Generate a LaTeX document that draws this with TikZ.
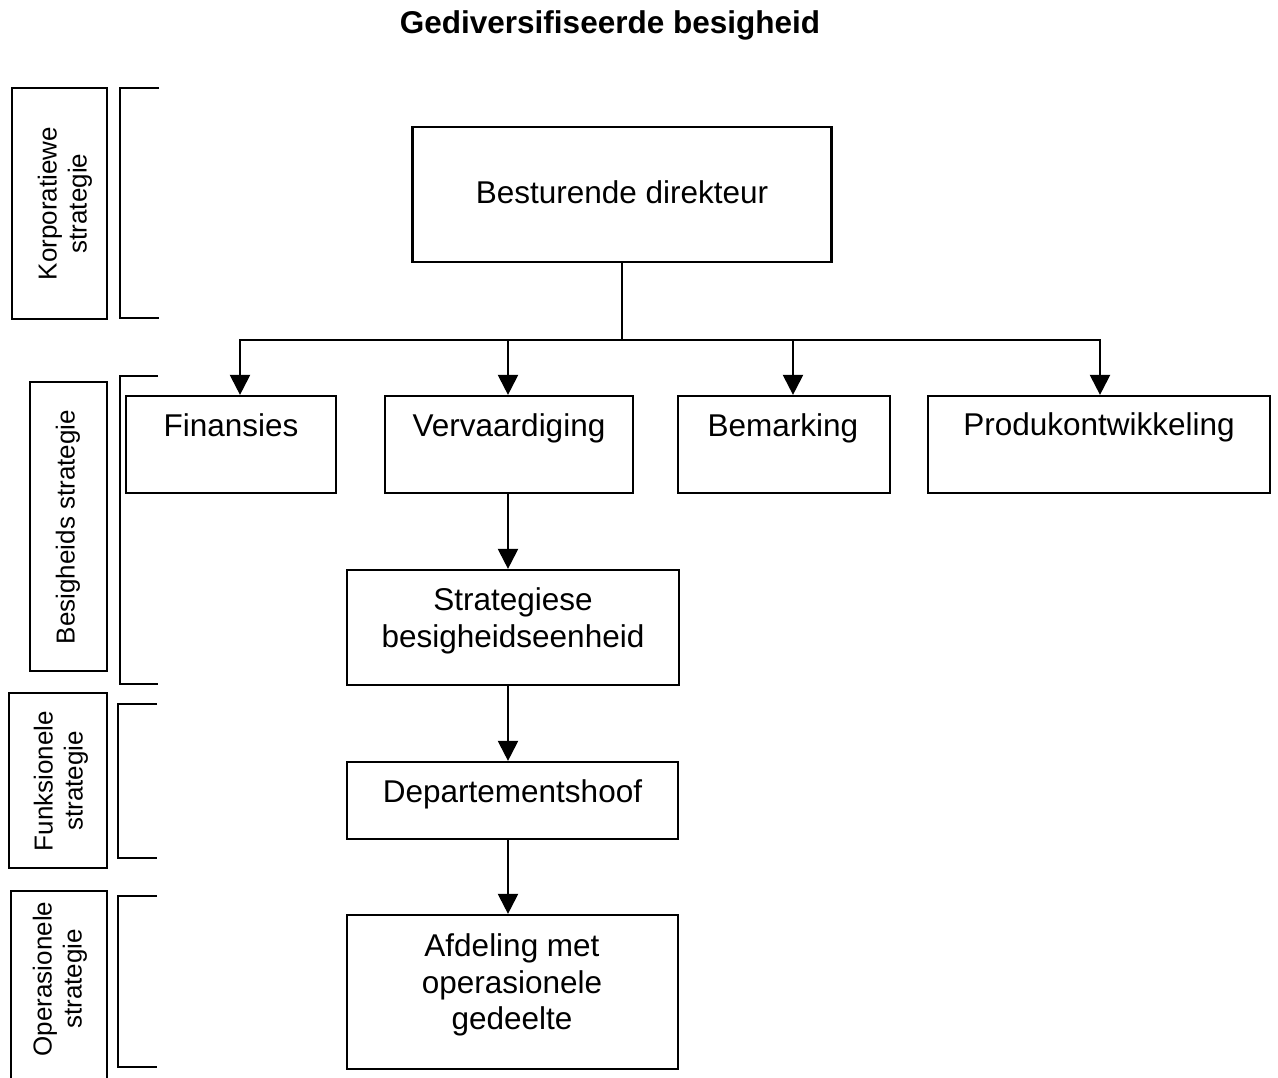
\documentclass[tikz,border=0pt]{standalone}
\usepackage{fontspec}
\setmainfont{Liberation Sans}
\usetikzlibrary{arrows.meta}
\begin{document}
\begin{tikzpicture}[x=1pt,y=-1pt,
  every node/.style={inner sep=0pt},
  box/.style={draw,line width=2.2pt,rectangle},
  txt/.style={font=\fontsize{31.5}{36.5}\selectfont,align=center},
  oneline/.style={txt,text height=23.6pt,text depth=7.9pt},
  side/.style={font=\fontsize{26}{30}\selectfont,align=center,rotate=90},
  arr/.style={line width=2.2pt,-{Triangle[length=20pt,width=20pt]}},
  bracket/.style={line width=2.2pt}]
\useasboundingbox (0,0) rectangle (1278,1078);
\clip (0,0) rectangle (1278,1078);
\fill[white] (0,0) rectangle (1278,1078);

% title
\node[font=\fontsize{31.5}{36.5}\selectfont\bfseries] (title) at (610,25) {Gediversifiseerde besigheid};

% strategy level labels on the left
\node[box,minimum width=95pt,minimum height=231pt] (lk) at (59.5,203.5) {};
\node[side] (lkt) at (65,203.5) {Korporatiewe\\strategie};
\node[box,minimum width=77pt,minimum height=289pt] (lb) at (68.5,526.5) {};
\node[side] (lbt) at (68,527) {Besigheids strategie};
\node[box,minimum width=98pt,minimum height=175pt] (lf) at (58,780.5) {};
\node[side] (lft) at (61,781) {Funksionele\\strategie};
\node[box,minimum width=96pt,minimum height=209pt] (lo) at (59,995.5) {};
\node[side] (lot) at (60,979) {Operasionele\\strategie};

% brackets
\draw[bracket] (159,88) -- (120,88) -- (120,318) -- (159,318);
\draw[bracket] (158,376) -- (120,376) -- (120,684) -- (158,684);
\draw[bracket] (157,704) -- (118,704) -- (118,858) -- (157,858);
\draw[bracket] (157,896) -- (118,896) -- (118,1067) -- (157,1067);

% organisation boxes
\node[box,minimum width=419pt,minimum height=135pt] (dir) at (622,194.5) {};
\node[oneline] (dirt) at (622,196) {Besturende direkteur};

\node[box,minimum width=210pt,minimum height=97pt] (fin) at (231,444.5) {};
\node[oneline] (fint) at (231,429) {Finansies};
\node[box,minimum width=248pt,minimum height=97pt] (ver) at (509,444.5) {};
\node[oneline] (vert) at (509,429) {Vervaardiging};
\node[box,minimum width=212pt,minimum height=97pt] (bem) at (784,444.5) {};
\node[oneline] (bemt) at (783,429) {Bemarking};
\node[box,minimum width=342pt,minimum height=97pt] (pro) at (1099,444.5) {};
\node[oneline] (prot) at (1099,428) {Produkontwikkeling};

\node[box,minimum width=332pt,minimum height=115pt] (sbe) at (513,627.5) {};
\node[txt] (sbet) at (513,621) {Strategiese\\besigheidseenheid};
\node[box,minimum width=331pt,minimum height=77pt] (dep) at (512.5,800.5) {};
\node[oneline] (dept) at (512.5,795) {Departementshoof};
\node[box,minimum width=331pt,minimum height=154pt] (afd) at (512.5,992) {};
\node[txt] (afdt) at (512,985) {Afdeling met\\operasionele\\gedeelte};

% connectors
\coordinate (bus) at (622,340);
\draw[line width=2.2pt] (dir.south) -- (bus);
\draw[arr] (bus) -| ([xshift=9pt]fin.north);
\draw[arr] (bus) -| ([xshift=-1pt]ver.north);
\draw[arr] (bus) -| ([xshift=9pt]bem.north);
\draw[arr] (bus) -| ([xshift=1pt]pro.north);
\draw[arr] ([xshift=-1pt]ver.south) -- ([xshift=-5pt]sbe.north);
\draw[arr] ([xshift=-5pt]sbe.south) -- ([xshift=-4.5pt]dep.north);
\draw[arr] ([xshift=-4.5pt]dep.south) -- ([xshift=-4.5pt]afd.north);
\end{tikzpicture}
\end{document}
